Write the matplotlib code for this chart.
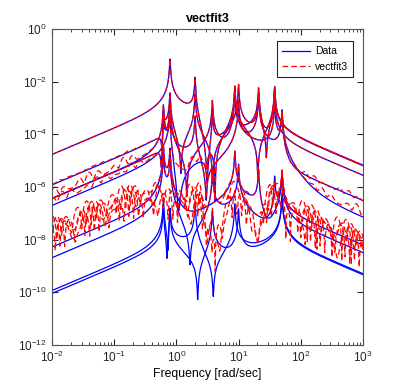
import numpy as np
import matplotlib.pyplot as plt
import matplotlib.ticker as mticker

plt.rcParams['font.family'] = ['Liberation Sans', 'DejaVu Sans']
plt.rcParams['mathtext.fontset'] = 'custom'
plt.rcParams['mathtext.rm'] = 'Liberation Sans'

mode_freq = [0.62, 0.79, 2.0, 3.8, 8.7, 10.0, 21.0, 38.0, 50.0]
mode_damp = [0.01, 0.01, 0.01, 0.01, 0.01, 0.01, 0.01, 0.01, 0.01]

# modal residues of each response curve (one row per curve)
residues = [
    [0.0, 1.15e-3, -5.9e-4, 0.0, 1.2e-3, 0.0, 0.0, 5.0e-3, 0.0],
    [-1.0e-5, 6.0e-5, 1.4e-4, 0.0, 0.0, 1.6e-3, -1.7e-3, 2.7e-3, 0.0],
    [1.65e-5, -8.0e-6, 0.0, -5.0e-5, 8.0e-4, 0.0, 0.0, -1.2e-3, 7.5e-4],
    [0.0, 1.65e-5, -2.0e-5, 0.0, 0.0, -4.0e-4, 1.2e-3, 0.0, -8.67e-4],
    [4.7e-7, -4.7e-7, 0.0, 0.0, 4.0e-6, 0.0, -2.0e-6, 0.0, 4.3e-6],
    [2.1e-7, -2.1e-7, 0.0, -3.0e-7, 0.0, 1.5e-6, 0.0, -2.0e-6, 4.0e-6],
    [4.0e-9, 2.5e-9, -1.0e-8, 0.0, -4.0e-8, 0.0, 0.0, 0.0, 5.5e-7],
    [2.0e-9, 2.0e-9, 0.0, 1.0e-8, 0.0, -3.0e-8, 0.0, 0.0, 4.8e-7],
    [-5.0e-6, 2.4e-5, 0.0, 1.5e-4, -6.0e-4, 0.0, 2.5e-3, 4.4e-3, 0.0],
]

# vectfit3 misfit relative to the leading response (log10), and ripple phase
fit_err_rel = [-9.0, -1.6, -1.5, -1.8, -2.6, -2.5, -2.8, -2.7, -9.0]
fit_err_phase = [0.0, 1.1, 2.3, 0.4, 1.7, 2.9, 0.9, 2.1, 0.0]
fit_err_cap = 10.0 ** -3.5

freq = np.logspace(-2, 3, 3000)
s = 1j * freq


def response(res):
    h = np.zeros_like(s)
    for wk, zk, rk in zip(mode_freq, mode_damp, res):
        h += rk / (s ** 2 + 2 * zk * wk * s + wk ** 2)
    return s * h


fig = plt.figure(figsize=(4.02, 3.88), dpi=100)
ax = fig.add_axes([0.129, 0.111, 0.774, 0.814])

data = [response(r) for r in residues]
lead = np.minimum(np.abs(data[0]), fit_err_cap)
for i, h in enumerate(data):
    ax.loglog(freq, np.abs(h), color='#0000ff', lw=0.9, label='Data' if i == 0 else None)

for i, h in enumerate(data):
    ph = fit_err_phase[i]
    ripple = np.cos(7.5 * np.log(freq) + ph) + 0.5 * np.cos(12.1 * np.log(freq) + 2 * ph) + 0.12j
    err = 10.0 ** fit_err_rel[i] * lead * ripple
    ax.loglog(freq, np.abs(h + err), color='#ff0000', lw=0.9, ls=(0, (4.5, 2.5)),
              label='vectfit3' if i == 0 else None)

ax.set_xlim(1e-2, 1e3)
ax.set_ylim(1e-12, 1e0)
ax.set_yticks([10.0 ** k for k in range(-12, 1, 2)])
ax.yaxis.set_minor_locator(mticker.NullLocator())
ax.xaxis.set_major_locator(mticker.LogLocator(base=10, numticks=10))
ax.xaxis.set_minor_locator(mticker.LogLocator(base=10, subs=np.arange(2, 10), numticks=20))
ax.tick_params(which='both', direction='in', top=True, right=True, labelsize=8.5, colors='#262626')
ax.tick_params(which='major', length=4)
ax.tick_params(which='minor', length=2)
for sp in ax.spines.values():
    sp.set_color('#555555')
    sp.set_linewidth(0.8)

ax.set_xlabel('Frequency [rad/sec]', fontsize=8.8, labelpad=2)
ax.set_title('vectfit3', fontsize=9, fontweight='bold', pad=5)
leg = ax.legend(loc='upper right', bbox_to_anchor=(0.968, 0.962), fontsize=7.5,
                fancybox=False, edgecolor='#262626', framealpha=1, handlelength=2.6,
                handletextpad=0.5, borderpad=0.5, labelspacing=0.5, borderaxespad=0)
leg.get_frame().set_linewidth(0.8)

fig.savefig('out.png', dpi=100)
